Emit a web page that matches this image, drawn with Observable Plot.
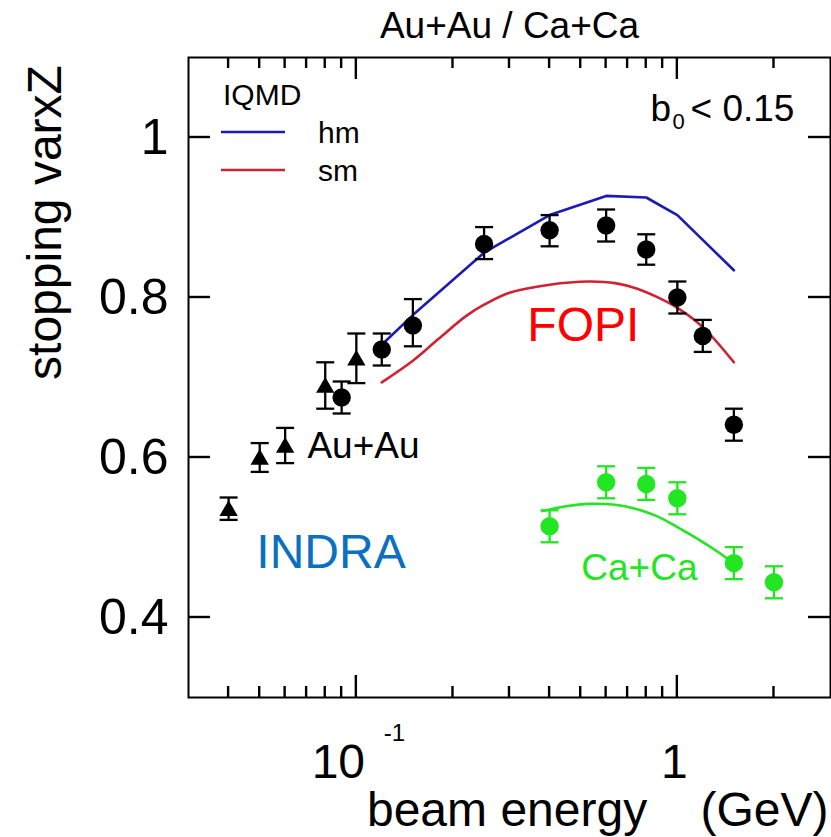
<!DOCTYPE html>
<html><head><meta charset="utf-8">
<script src="https://cdn.jsdelivr.net/npm/d3@7"></script>
<script src="https://cdn.jsdelivr.net/npm/@observablehq/plot@0.6"></script>
<style>html,body{margin:0;padding:0;background:#fff}</style>
</head><body><div id="chart"></div>
<script>
// ---- data ----
const indraE   = [0.04, 0.05, 0.06, 0.08, 0.1];
const indraV   = [0.536, 0.600, 0.615, 0.690, 0.724];
const indraErr = [0.014, 0.018, 0.022, 0.029, 0.031];

const fopiAuE  = [0.09, 0.12, 0.15, 0.25, 0.4, 0.6, 0.8, 1.0, 1.2, 1.5];
const fopiAuV  = [0.675, 0.735, 0.765, 0.867, 0.884, 0.890, 0.860, 0.800, 0.752, 0.641];
const fopiAuLo = [0.655, 0.715, 0.739, 0.848, 0.864, 0.870, 0.841, 0.780, 0.732, 0.621];
const fopiAuHi = [0.695, 0.755, 0.798, 0.888, 0.903, 0.910, 0.879, 0.820, 0.772, 0.661];

const fopiCaE   = [0.4, 0.6, 0.8, 1.0, 1.5, 2.0];
const fopiCaV   = [0.514, 0.569, 0.567, 0.549, 0.468, 0.444];
const fopiCaErr = [0.020, 0.020, 0.020, 0.020, 0.020, 0.020];

const hmE = [0.12, 0.15, 0.25, 0.4, 0.6, 0.8, 1.0, 1.5];
const hmV = [0.741, 0.778, 0.856, 0.903, 0.927, 0.925, 0.903, 0.834];

const smE = [0.12, 0.15, 0.18, 0.22, 0.25, 0.3, 0.4, 0.53, 0.64, 0.75, 0.86, 1.0, 1.2, 1.5];
const smV = [0.694, 0.721, 0.748, 0.777, 0.791, 0.806, 0.816, 0.820, 0.818, 0.811, 0.801, 0.787, 0.763, 0.719];

const caSmE = [0.38, 0.45, 0.53, 0.64, 0.74, 0.86, 1.0, 1.16, 1.35, 1.52];
const caSmV = [0.533, 0.539, 0.542, 0.541, 0.536, 0.527, 0.513, 0.498, 0.481, 0.466];

const yTicks = [0.4, 0.6, 0.8, 1.0];
const yTickLabels = ["0.4", "0.6", "0.8", "1"];
const xMajor = [0.1, 1];
const xMinor = [0.04, 0.05, 0.06, 0.07, 0.08, 0.09, 0.2, 0.3, 0.4, 0.5, 0.6, 0.7, 0.8, 0.9, 2];

const legendTitle = "IQMD";
const legendKeys = ["hm", "sm"];
const legendColors = ["#1a1ab4", "#cf2233"];

const annLabels = ["FOPI", "INDRA", "Au+Au", "Ca+Ca"];
const annE      = [0.341, 0.0488, 0.0704, 0.502];
const annV      = [0.746, 0.4625, 0.600, 0.4475];
const annColors = ["#ff0000", "#0a70c0", "#000000", "#22e622"];
const annSizes  = [48, 48, 37, 37];

// ---- build tables ----
const indra = indraE.map((e, i) => ({e, v: indraV[i], lo: indraV[i] - indraErr[i], hi: indraV[i] + indraErr[i]}));
const fopiAu = fopiAuE.map((e, i) => ({e, v: fopiAuV[i], lo: fopiAuLo[i], hi: fopiAuHi[i]}));
const fopiCa = fopiCaE.map((e, i) => ({e, v: fopiCaV[i], lo: fopiCaV[i] - fopiCaErr[i], hi: fopiCaV[i] + fopiCaErr[i]}));
const hm = hmE.map((e, i) => ({e, v: hmV[i]}));
const sm = smE.map((e, i) => ({e, v: smV[i]}));
const caSm = caSmE.map((e, i) => ({e, v: caSmV[i]}));
const ann = annLabels.map((t, i) => ({t, e: annE[i], v: annV[i], c: annColors[i], s: annSizes[i]}));

const green = "#22e622";
const cap = {draw(ctx, size) { const w = Math.sqrt(size / Math.PI); ctx.moveTo(-w, 0); ctx.lineTo(w, 0); }};

function errMarks(data, color) {
  return [
    Plot.ruleX(data, {x: "e", y1: "lo", y2: "hi", stroke: color, strokeWidth: 2.3}),
    Plot.dot(data, {x: "e", y: "lo", symbol: cap, r: 9, stroke: color, strokeWidth: 2.3, fill: "none"}),
    Plot.dot(data, {x: "e", y: "hi", symbol: cap, r: 9, stroke: color, strokeWidth: 2.3, fill: "none"})
  ];
}

// inward axis ticks on all four sides, placed with the plot's own scales
function tickMark(index, scales, values, dims) {
  const {width, height, marginLeft, marginRight, marginTop, marginBottom} = dims;
  const L = marginLeft, R = width - marginRight, T = marginTop, B = height - marginBottom;
  const g = d3.create("svg:g").attr("stroke", "black").attr("stroke-width", 2.4).attr("fill", "none");
  const seg = (x1, y1, x2, y2) => g.append("line").attr("x1", x1).attr("y1", y1).attr("x2", x2).attr("y2", y2);
  yTicks.forEach(v => { const y = scales.y(v); seg(L, y, L + 22, y); seg(R, y, R - 22, y); });
  xMajor.forEach(v => { const x = scales.x(v); seg(x, B, x, B - 22); seg(x, T, x, T + 22); });
  xMinor.forEach(v => { const x = scales.x(v); seg(x, B, x, B - 11); seg(x, T, x, T + 11); });
  return g.node();
}

function legendMark(index, scales, values, dims) {
  const g = d3.create("svg:g").attr("text-anchor", "start");
  const x0 = dims.marginLeft, y0 = dims.marginTop;
  g.append("text").attr("x", x0 + 35).attr("y", y0 + 48).attr("font-size", 30).attr("fill", "black").text(legendTitle);
  legendKeys.forEach((k, i) => {
    const yy = y0 + 75 + i * 38;
    g.append("line").attr("x1", x0 + 33).attr("x2", x0 + 97).attr("y1", yy).attr("y2", yy)
      .attr("stroke", legendColors[i]).attr("stroke-width", 2.6);
    g.append("text").attr("x", x0 + 130).attr("y", yy + 11).attr("font-size", 30).attr("fill", "black").text(k);
  });
  return g.node();
}

const chart = Plot.plot({
  width: 831,
  height: 837,
  marginLeft: 188,
  marginRight: 1,
  marginTop: 57,
  marginBottom: 140,
  x: {type: "log", domain: [0.03, 3]},
  y: {domain: [0.3, 1.1]},
  style: {fontFamily: "'Liberation Sans', Arial, Helvetica, sans-serif", background: "white", color: "black"},
  marks: [
    // y tick labels
    Plot.axisY(yTicks, {anchor: "left", tickSize: 0, tickPadding: 20, fontSize: 50, label: null,
      tickFormat: d => yTickLabels[yTicks.indexOf(d)]}),
    Plot.axisX([], {anchor: "bottom", tickSize: 0, label: null}),
    // x tick labels
    Plot.text(["10"], {x: [0.1], frameAnchor: "bottom", lineAnchor: "bottom", dy: 80, dx: -18, fontSize: 48}),
    Plot.text(["-1"], {x: [0.1], frameAnchor: "bottom", lineAnchor: "bottom", dy: 43, dx: 38, fontSize: 24}),
    Plot.text(["1"], {x: [1], frameAnchor: "bottom", lineAnchor: "bottom", dy: 80, dx: -3, fontSize: 48}),
    // axis titles
    Plot.text(["beam energy\u00a0\u00a0\u00a0\u00a0(GeV)"], {frameAnchor: "bottom-right", textAnchor: "end", lineAnchor: "bottom", dy: 128, dx: -2, fontSize: 48}),
    Plot.text(["stopping varxZ"], {frameAnchor: "top-left", rotate: -90, textAnchor: "middle", lineAnchor: "bottom", dx: -128, dy: 165, fontSize: 48}),
    Plot.text(["Au+Au / Ca+Ca"], {frameAnchor: "top", lineAnchor: "bottom", dy: -20, fontSize: 37}),
    // b0 < 0.15
    Plot.text(["b"], {frameAnchor: "top-left", textAnchor: "start", lineAnchor: "bottom", dx: 462, dy: 63, fontSize: 37}),
    Plot.text(["0"], {frameAnchor: "top-left", textAnchor: "start", lineAnchor: "bottom", dx: 484, dy: 71, fontSize: 22}),
    Plot.text(["< 0.15"], {frameAnchor: "top-left", textAnchor: "start", lineAnchor: "bottom", dx: 502, dy: 63, fontSize: 37}),
    // model curves
    Plot.line(hm, {x: "e", y: "v", stroke: legendColors[0], strokeWidth: 2.6}),
    Plot.line(sm, {x: "e", y: "v", stroke: legendColors[1], strokeWidth: 2.6, curve: "catmull-rom"}),
    Plot.line(caSm, {x: "e", y: "v", stroke: green, strokeWidth: 2.6, curve: "catmull-rom"}),
    // data
    ...errMarks(indra, "black"),
    Plot.dot(indra, {x: "e", y: "v", symbol: "triangle", r: 6.8, fill: "black", dy: 2}),
    ...errMarks(fopiAu, "black"),
    Plot.dot(fopiAu, {x: "e", y: "v", r: 9.2, fill: "black"}),
    ...errMarks(fopiCa, green),
    Plot.dot(fopiCa, {x: "e", y: "v", r: 9.2, fill: green}),
    // annotations
    Plot.text(ann, {x: "e", y: "v", text: "t", fill: "c", fontSize: "s", textAnchor: "start", lineAnchor: "bottom"}),
    legendMark,
    tickMark,
    Plot.frame({stroke: "black", strokeWidth: 2})
  ]
});
document.getElementById("chart").appendChild(chart);
</script>
</body></html>
